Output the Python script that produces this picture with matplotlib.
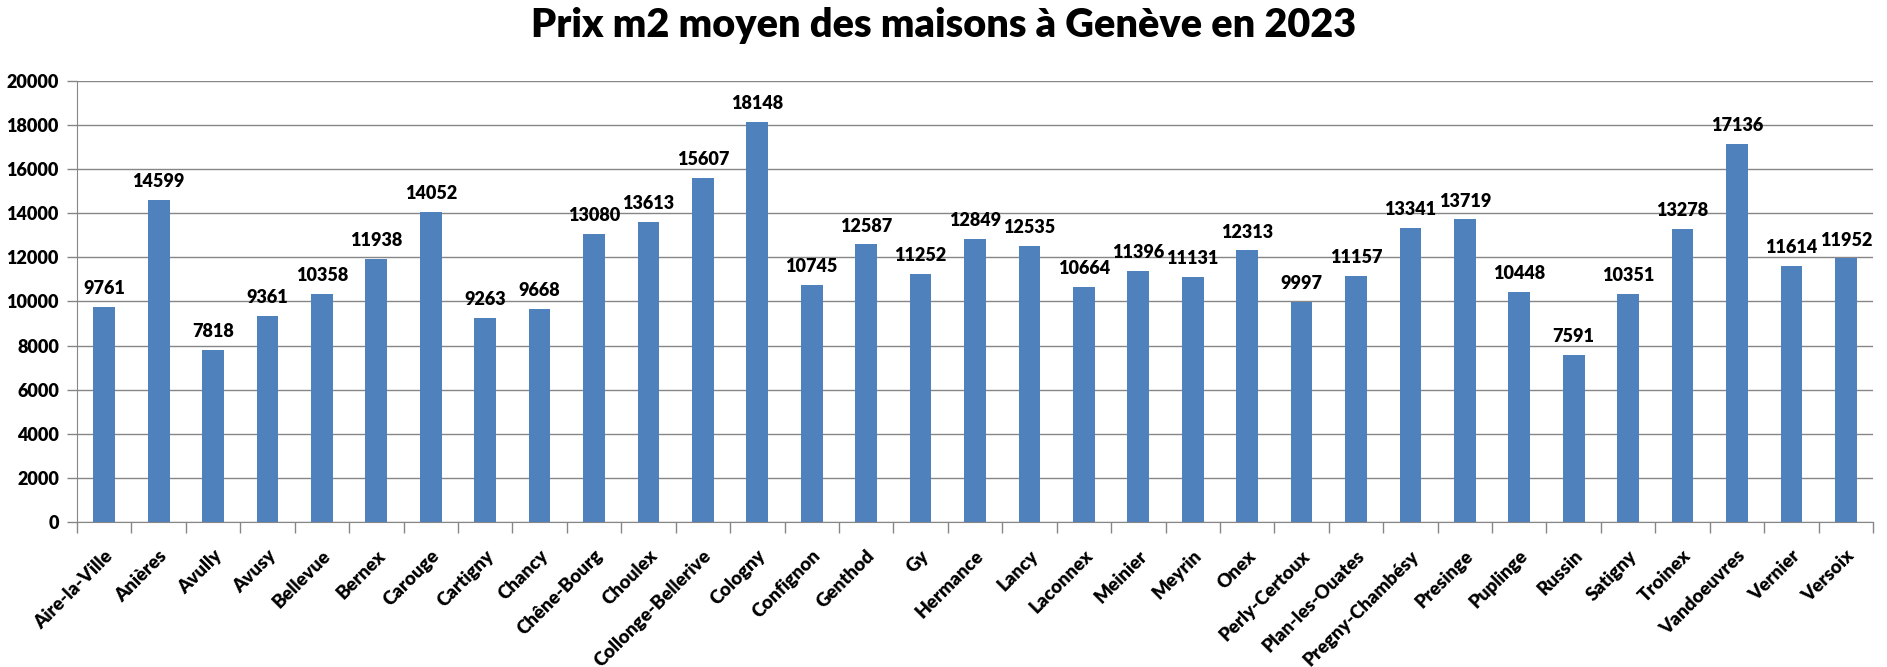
import numpy as np
import matplotlib.pyplot as plt

# data
communes = ['Aire-la-Ville', 'Anières', 'Avully', 'Avusy', 'Bellevue', 'Bernex', 'Carouge',
            'Cartigny', 'Chancy', 'Chêne-Bourg', 'Choulex', 'Collonge-Bellerive', 'Cologny',
            'Confignon', 'Genthod', 'Gy', 'Hermance', 'Lancy', 'Laconnex', 'Meinier', 'Meyrin',
            'Onex', 'Perly-Certoux', 'Plan-les-Ouates', 'Pregny-Chambésy', 'Presinge',
            'Puplinge', 'Russin', 'Satigny', 'Troinex', 'Vandoeuvres', 'Vernier', 'Versoix']
prix_m2 = [9761, 14599, 7818, 9361, 10358, 11938, 14052, 9263, 9668, 13080, 13613, 15607,
           18148, 10745, 12587, 11252, 12849, 12535, 10664, 11396, 11131, 12313, 9997, 11157,
           13341, 13719, 10448, 7591, 10351, 13278, 17136, 11614, 11952]
y_ticks = [0, 2000, 4000, 6000, 8000, 10000, 12000, 14000, 16000, 18000, 20000]

plt.rcParams['font.family'] = ['Lato', 'DejaVu Sans']
plt.rcParams['font.weight'] = 'bold'

fig = plt.figure(figsize=(18.87, 6.67), dpi=100)
ax = fig.add_axes([0.0408, 0.2174, 0.9518, 0.6612])

x = np.arange(len(communes))
bars = ax.bar(x, prix_m2, width=0.4, color='#4F81BD', zorder=3)
ax.bar_label(bars, labels=[str(v) for v in prix_m2], padding=7, fontsize=13, fontweight='heavy')

ax.set_xlim(-0.5, len(communes) - 0.5)
ax.set_ylim(0, 20000)
ax.set_yticks(y_ticks)
ax.set_yticklabels([str(v) for v in y_ticks], fontsize=13, fontweight='heavy')
ax.yaxis.grid(True, color='#868686', linewidth=1, zorder=0)

ax.set_xticks(x)
ax.set_xticklabels(communes, rotation=45, ha='right', rotation_mode='anchor',
                   fontsize=13.5, fontweight='heavy')
ax.tick_params(axis='x', length=0, pad=18)
ax.set_xticks(np.arange(-0.5, len(communes)), minor=True)
ax.tick_params(axis='x', which='minor', length=8, color='#868686', width=1)
ax.tick_params(axis='y', length=7, color='#868686', width=1, pad=6)

for s in ['top', 'right']:
    ax.spines[s].set_visible(False)
for s in ['left', 'bottom']:
    ax.spines[s].set_color('#868686')
    ax.spines[s].set_zorder(4)

fig.suptitle('Prix m2 moyen des maisons à Genève en 2023', fontsize=28.5, fontweight='heavy', y=0.99)

plt.savefig('out.png', dpi=100)
